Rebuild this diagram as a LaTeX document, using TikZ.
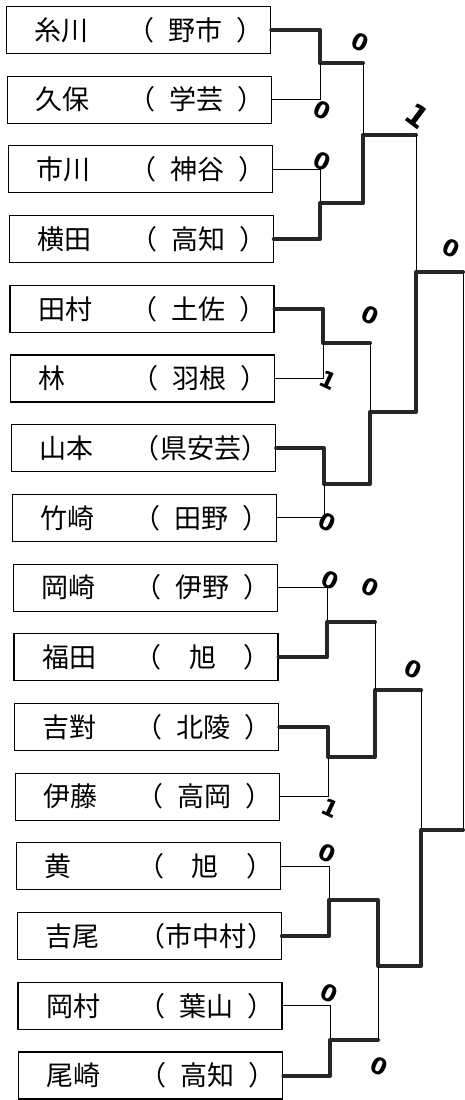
\documentclass[tikz,border=0pt]{standalone}
\usepackage{fontspec}
\setmainfont{Noto Sans CJK JP}
\newfontfamily\scorefont{DejaVu Sans}
\usepackage{tikz}
\usetikzlibrary{positioning}

\newcommand{\entry}[2]{\makebox[114pt][l]{\hspace{21pt}#1}（\makebox[82pt]{#2}）}

\begin{document}
\begin{tikzpicture}[x=1pt, y=-1pt, node distance=69.7pt,
    player/.style={draw, rectangle, line width=1.1pt, minimum width=264pt, minimum height=47pt,
      inner sep=0pt, xshift=0.8pt, font=\fontsize{27}{27}\selectfont},
    win/.style={line width=4pt, black!85, line cap=round, line join=round},
    lose/.style={line width=0.9pt},
    score/.style={font=\scorefont\bfseries\fontsize{23}{23}\selectfont, rotate=-25, inner sep=0pt}]
  \useasboundingbox (0,0) rectangle (464,1100);

  % players
  \node[player] (p1) at (138,30) {\entry{糸川}{野市}};
  \node[player] (p2) [below of=p1] {\entry{久保}{学芸}};
  \node[player] (p3) [below of=p2] {\entry{市川}{神谷}};
  \node[player] (p4) [below of=p3] {\entry{横田}{高知}};
  \node[player] (p5) [below of=p4] {\entry{田村}{土佐}};
  \node[player] (p6) [below of=p5] {\entry{林}{羽根}};
  \node[player] (p7) [below of=p6] {\entry{山本}{県安芸}};
  \node[player] (p8) [below of=p7] {\entry{竹崎}{田野}};
  \node[player] (p9) [below of=p8] {\entry{岡崎}{伊野}};
  \node[player] (p10) [below of=p9] {\entry{福田}{旭}};
  \node[player] (p11) [below of=p10] {\entry{吉對}{北陵}};
  \node[player] (p12) [below of=p11] {\entry{伊藤}{高岡}};
  \node[player] (p13) [below of=p12] {\entry{黄}{旭}};
  \node[player] (p14) [below of=p13] {\entry{吉尾}{市中村}};
  \node[player] (p15) [below of=p14] {\entry{岡村}{葉山}};
  \node[player] (p16) [below of=p15] {\entry{尾崎}{高知}};

  % joins of the bracket
  \coordinate (m1) at (320,63);
  \coordinate (m2) at (320,203);
  \coordinate (m3) at (323,343);
  \coordinate (m4) at (324,484);
  \coordinate (m5) at (327,622);
  \coordinate (m6) at (328,757);
  \coordinate (m7) at (329,900);
  \coordinate (m8) at (330,1040);
  \coordinate (n1) at (363,135);
  \coordinate (n2) at (370,412);
  \coordinate (n3) at (375,690);
  \coordinate (n4) at (378,966);
  \coordinate (o1) at (416,272);
  \coordinate (o2) at (421,830);
  \coordinate (fin) at (463,550);

  % first quarter
  \draw[win] (p1.east) -| (m1) -- (m1 -| n1);
  \draw[lose] (p2.east) -| (m1);
  \draw[lose] (p3.east) -| (m2);
  \draw[win] (p4.east) -| (m2) -- (m2 -| n1) -- (n1) -- (n1 -| o1);
  \draw[lose] (m1 -| n1) -- (n1);
  \draw[lose] (n1 -| o1) -- (o1);
  % second quarter
  \draw[win] (p5.east) -| (m3) -- (m3 -| n2);
  \draw[lose] (p6.east) -| (m3);
  \draw[win] (p7.east) -| (m4) -- (m4 -| n2) -- (n2) -- (n2 -| o1) -- (o1) -- (o1 -| fin);
  \draw[lose] (p8.east) -| (m4);
  \draw[lose] (m3 -| n2) -- (n2);
  % third quarter
  \draw[lose] (p9.east) -| (m5);
  \draw[win] (p10.east) -| (m5) -- (m5 -| n3);
  \draw[win] (p11.east) -| (m6) -- (m6 -| n3) -- (n3) -- (n3 -| o2);
  \draw[lose] (p12.east) -| (m6);
  \draw[lose] (m5 -| n3) -- (n3);
  \draw[lose] (n3 -| o2) -- (o2);
  % fourth quarter
  \draw[lose] (p13.east) -| (m7);
  \draw[win] (p14.east) -| (m7) -- (m7 -| n4) -- (n4) -- (n4 -| o2) -- (o2) -- (o2 -| fin);
  \draw[lose] (p15.east) -| (m8);
  \draw[win] (p16.east) -| (m8) -- (m8 -| n4);
  \draw[lose] (m8 -| n4) -- (n4);
  % final
  \draw[lose] (o1 -| fin) -- (o2 -| fin);

  % scores
  \node[score] (s1) at (360,42) {0};
  \node[score] (s2) at (322,110) {0};
  \node[score] (s3) at (322,161) {0};
  \node[score, rotate=-12, font=\scorefont\bfseries\fontsize{30}{30}\selectfont] (s4) at (417,116) {1};
  \node[score] (s5) at (451,248) {0};
  \node[score] (s6) at (370,315) {0};
  \node[score] (s7) at (328,380) {1};
  \node[score] (s8) at (327,522) {0};
  \node[score] (s9) at (330,580) {0};
  \node[score] (s10) at (370,587) {0};
  \node[score] (s11) at (413,669) {0};
  \node[score] (s12) at (330,808) {1};
  \node[score] (s13) at (327,853) {0};
  \node[score] (s14) at (329,993) {0};
  \node[score] (s15) at (379,1066) {0};
\end{tikzpicture}
\end{document}
